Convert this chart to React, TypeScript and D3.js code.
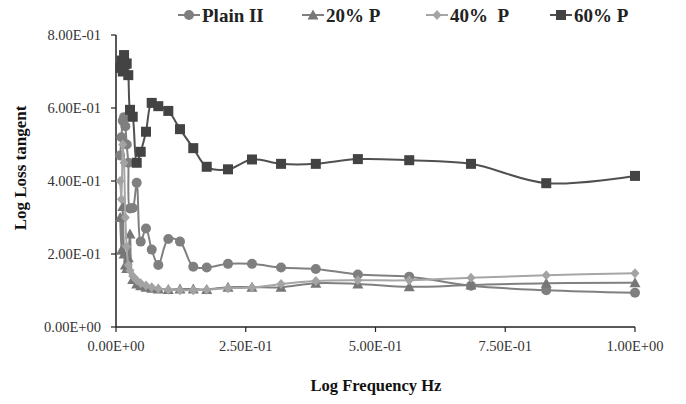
import React from "react";
import * as d3 from "d3";

// Log frequency (shared by every sample)
const freq = [0.008, 0.0105, 0.013, 0.0155, 0.018, 0.0206, 0.0237, 0.027, 0.0322, 0.0399, 0.0476, 0.0578, 0.0688, 0.0815, 0.1008, 0.1233, 0.1489, 0.1748, 0.2158, 0.262, 0.318, 0.385, 0.466, 0.565, 0.684, 0.829, 1.0];

// Log loss tangent per sample
const plainII = [0.47, 0.52, 0.565, 0.575, 0.55, 0.5, 0.45, 0.325, 0.326, 0.395, 0.234, 0.27, 0.212, 0.17, 0.241, 0.234, 0.165, 0.163, 0.173, 0.173, 0.163, 0.159, 0.144, 0.138, 0.113, 0.101, 0.094];
const p20 = [0.3, 0.21, 0.33, 0.2, 0.17, 0.16, 0.19, 0.255, 0.13, 0.118, 0.113, 0.109, 0.106, 0.104, 0.103, 0.104, 0.104, 0.103, 0.109, 0.109, 0.109, 0.12, 0.118, 0.11, 0.115, 0.12, 0.121];
const p40 = [0.4, 0.35, 0.5, 0.45, 0.3, 0.22, 0.17, 0.155, 0.14, 0.128, 0.12, 0.114, 0.109, 0.105, 0.102, 0.101, 0.101, 0.102, 0.106, 0.108, 0.118, 0.126, 0.128, 0.128, 0.135, 0.142, 0.147];
const p60 = [0.71, 0.73, 0.7, 0.745, 0.72, 0.722, 0.69, 0.595, 0.576, 0.45, 0.48, 0.535, 0.614, 0.605, 0.592, 0.542, 0.49, 0.439, 0.432, 0.459, 0.447, 0.447, 0.46, 0.457, 0.447, 0.394, 0.414];

const seriesNames = ["Plain II", "20% P", "40%  P", "60% P"];
const xTicks = [0, 0.25, 0.5, 0.75, 1.0];
const yTicks = [0, 0.2, 0.4, 0.6, 0.8];

type Shape = "circle" | "triangle" | "diamond" | "square";

const styles: { shape: Shape; fill: string; stroke: string }[] = [
  { shape: "circle", fill: "#7f7f7f", stroke: "#808080" },
  { shape: "triangle", fill: "#777777", stroke: "#808080" },
  { shape: "diamond", fill: "#a3a3a3", stroke: "#a6a6a6" },
  { shape: "square", fill: "#434343", stroke: "#505050" },
];

const values = [plainII, p20, p40, p60];

const FONT = "'Liberation Serif', 'Times New Roman', serif";

function Marker({ shape, x, y, fill }: { shape: Shape; x: number; y: number; fill: string }) {
  if (shape === "circle") return <circle cx={x} cy={y} r={5} fill={fill} />;
  if (shape === "square") return <rect x={x - 5} y={y - 5} width={10} height={10} fill={fill} />;
  if (shape === "triangle")
    return <path d={`M${x},${y - 5.5}L${x + 5.5},${y + 4.5}L${x - 5.5},${y + 4.5}Z`} fill={fill} />;
  return <path d={`M${x},${y - 5}L${x + 4.5},${y}L${x},${y + 5}L${x - 4.5},${y}Z`} fill={fill} />;
}

export default function App() {
  const width = 686;
  const height = 404;
  const x0 = 116;
  const x1 = 635;
  const yTop = 35;
  const yBot = 327;

  const x = d3.scaleLinear().domain([0, 1]).range([x0, x1]);
  const y = d3.scaleLinear().domain([0, 0.8]).range([yBot, yTop]);

  const line = d3
    .line<number>()
    .x((_, i) => x(freq[i]))
    .y((d) => y(d))
    .curve(d3.curveCatmullRom.alpha(0.5));

  const fmt = (v: number) => {
    const s = v.toExponential(2).toUpperCase();
    const [m, e] = s.split("E");
    const ei = parseInt(e, 10);
    const sign = ei < 0 ? "-" : "+";
    return `${m}E${sign}${String(Math.abs(ei)).padStart(2, "0")}`;
  };

  // evenly spaced legend entries
  const legendX = seriesNames.map((_, i) => 178 + i * 124);

  return (
    <div style={{ position: "absolute", left: 0, top: 0 }}>
      <svg width={width} height={height} style={{ display: "block", background: "#fff" }}>
        {/* axes */}
        <line x1={x0} x2={x0} y1={yTop} y2={yBot} stroke="#222" strokeWidth={1.5} />
        <line x1={x0} x2={x1} y1={yBot} y2={yBot} stroke="#222" strokeWidth={1.5} />
        {yTicks.map((t) => (
          <g key={"y" + t}>
            <line x1={x0 - 5} x2={x0} y1={y(t)} y2={y(t)} stroke="#222" strokeWidth={1.2} />
            <text
              x={x0 - 15}
              y={y(t)}
              textAnchor="end"
              dominantBaseline="central"
              fontFamily={FONT}
              fontSize={14.5}
              fill="#333"
            >
              {fmt(t)}
            </text>
          </g>
        ))}
        {xTicks.map((t) => (
          <g key={"x" + t}>
            <line x1={x(t)} x2={x(t)} y1={yBot} y2={yBot + 5} stroke="#222" strokeWidth={1.2} />
            <text
              x={x(t)}
              y={yBot + 19}
              textAnchor="middle"
              dominantBaseline="central"
              fontFamily={FONT}
              fontSize={14.5}
              fill="#333"
            >
              {fmt(t)}
            </text>
          </g>
        ))}

        {/* axis titles */}
        <text
          x={376}
          y={385}
          textAnchor="middle"
          dominantBaseline="central"
          fontFamily={FONT}
          fontSize={16.5}
          fontWeight="bold"
          fill="#111"
        >
          Log Frequency Hz
        </text>
        <text
          transform={`translate(20,168) rotate(-90)`}
          textAnchor="middle"
          dominantBaseline="central"
          fontFamily={FONT}
          fontSize={17}
          fontWeight="bold"
          fill="#111"
        >
          Log Loss tangent
        </text>

        {/* series */}
        {values.map((vals, si) => (
          <g key={"s" + si}>
            <path d={line(vals) || ""} fill="none" stroke={styles[si].stroke} strokeWidth={2} />
            {vals.map((v, i) => (
              <Marker key={i} shape={styles[si].shape} x={x(freq[i])} y={y(v)} fill={styles[si].fill} />
            ))}
          </g>
        ))}

        {/* legend */}
        {seriesNames.map((name, si) => (
          <g key={"l" + si}>
            <line
              x1={legendX[si]}
              x2={legendX[si] + 22}
              y1={15}
              y2={15}
              stroke={styles[si].stroke}
              strokeWidth={2}
            />
            <Marker shape={styles[si].shape} x={legendX[si] + 11} y={15} fill={styles[si].fill} />
            <text
              x={legendX[si] + 24}
              y={15}
              dominantBaseline="central"
              fontFamily={FONT}
              fontSize={19}
              fontWeight="bold"
              fill="#222"
              style={{ whiteSpace: "pre" }}
            >
              {name}
            </text>
          </g>
        ))}
      </svg>
    </div>
  );
}
